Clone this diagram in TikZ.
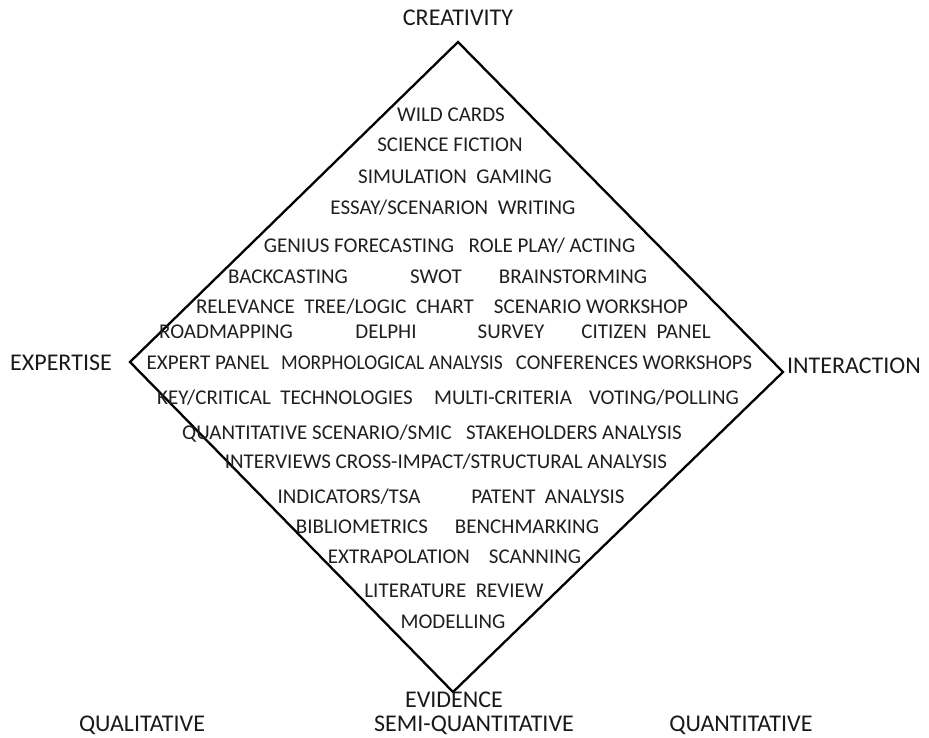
\documentclass[tikz,border=0pt]{standalone}
\usepackage{fontspec}
\setmainfont{Carlito}
\begin{document}
\begin{tikzpicture}[x=1pt,y=-1pt,
  item/.style={font=\fontsize{21}{21}\selectfont, text=black!88, inner sep=0pt,
               text height=13.5pt, text depth=0pt, anchor=center},
  pole/.style={font=\fontsize{24}{24}\selectfont, text=black!90, inner sep=0pt,
               text height=15.4pt, text depth=0pt, anchor=center},
  frame/.style={line width=2.3pt, line join=miter, black}]
\useasboundingbox (0,0) rectangle (929,737);

% corners of the diamond
\coordinate (top) at (458,42);
\coordinate (right) at (783,372);
\coordinate (bottom) at (453,692);
\coordinate (left) at (130,362);
\draw[frame] (top) -- (right) -- (bottom) -- (left) -- cycle;

% the four poles
\node[pole] (creativity) at (458,18) {CREATIVITY};
\node[pole] (expertise) at (61,363) {EXPERTISE};
\node[pole] (interaction) at (854,366) {INTERACTION};
\node[pole] (evidence) at (454,700) {EVIDENCE};

% scale along the bottom
\node[pole] (qual) at (142,724) {QUALITATIVE};
\node[pole] (semi) at (474,724) {SEMI-QUANTITATIVE};
\node[pole] (quant) at (741,724) {QUANTITATIVE};

% methods inside the diamond
\node[item] (m1) at (451,115) {WILD CARDS};
\node[item] (m2) at (450,145) {SCIENCE FICTION};
\node[item] (m3) at (455,177) {SIMULATION\ \ GAMING};
\node[item] (m4) at (453,208) {ESSAY/SCENARION\ \ WRITING};

\node[item] (m5) at (359,246) {GENIUS FORECASTING};
\node[item] (m6) at (552,246) {ROLE PLAY/ ACTING};

\node[item] (m7) at (288,277) {BACKCASTING};
\node[item] (m8) at (436,277) {SWOT};
\node[item] (m9) at (573,277) {BRAINSTORMING};

\node[item] (m10) at (335,307) {RELEVANCE\ \ TREE/LOGIC\ \ CHART};
\node[item] (m11) at (591,307) {SCENARIO WORKSHOP};

\node[item] (m12) at (226,332) {ROADMAPPING};
\node[item] (m13) at (386,332) {DELPHI};
\node[item] (m14) at (511,332) {SURVEY};
\node[item] (m15) at (646,332) {CITIZEN\ \ PANEL};

\node[item] (m16) at (208,363) {EXPERT PANEL};
\node[item] (m17) at (392,363) {\scalebox{0.93}[1]{MORPHOLOGICAL ANALYSIS}};
\node[item] (m18) at (634,363) {\scalebox{0.98}[1]{CONFERENCES WORKSHOPS}};

\node[item] (m19) at (285,398) {KEY/CRITICAL\ \ TECHNOLOGIES};
\node[item] (m20) at (503,398) {MULTI-CRITERIA};
\node[item] (m21) at (664,398) {VOTING/POLLING};

\node[item] (m22) at (317,433) {QUANTITATIVE SCENARIO/SMIC};
\node[item] (m23) at (574,433) {STAKEHOLDERS ANALYSIS};

\node[item] (m24) at (446,462) {INTERVIEWS CROSS-IMPACT/STRUCTURAL ANALYSIS};

\node[item] (m25) at (349,497) {INDICATORS/TSA};
\node[item] (m26) at (548,497) {PATENT\ \ ANALYSIS};

\node[item] (m27) at (362,527) {BIBLIOMETRICS};
\node[item] (m28) at (527,527) {BENCHMARKING};

\node[item] (m29) at (399,557) {EXTRAPOLATION};
\node[item] (m30) at (535,557) {SCANNING};

\node[item] (m31) at (454,591) {LITERATURE\ \ REVIEW};
\node[item] (m32) at (453,622) {MODELLING};
\end{tikzpicture}
\end{document}
